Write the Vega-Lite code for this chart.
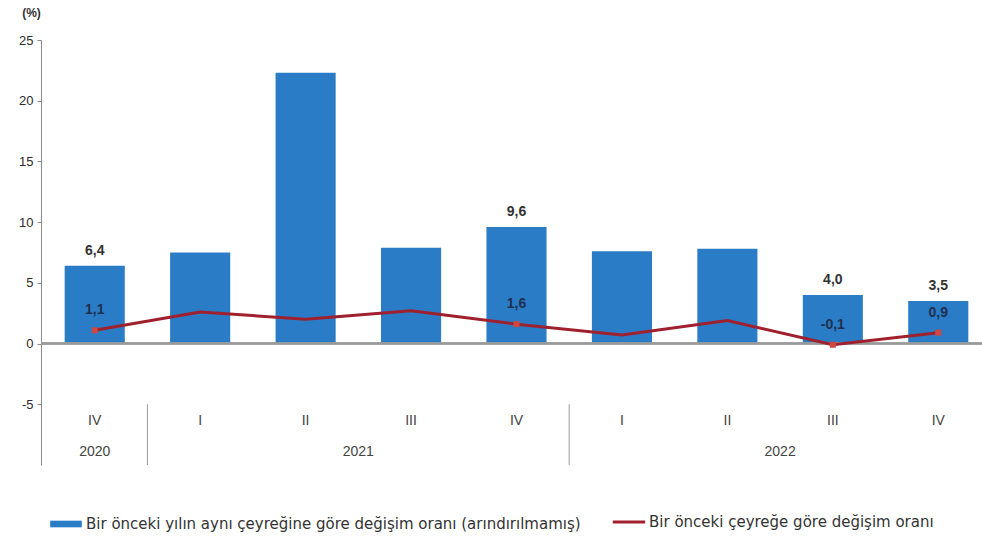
{
  "$schema": "https://vega.github.io/schema/vega-lite/v6.json",
  "width": 941,
  "height": 425,
  "autosize": "none",
  "padding": {"left": 41, "top": 40, "right": 0, "bottom": 77},
  "config": {
    "font": "Liberation Sans",
    "view": {"stroke": null},
    "locale": {"number": {"decimal": ",", "thousands": ".", "grouping": [3], "currency": ["", " TL"], "minus": "-"}}
  },
  "data": {
    "values": [
      {"key": "2020-IV", "quarter": "IV", "year": "2020", "yoy": 6.4, "qoq": 1.1},
      {"key": "2021-I", "quarter": "I", "year": "2021", "yoy": 7.5, "qoq": 2.6},
      {"key": "2021-II", "quarter": "II", "year": "2021", "yoy": 22.3, "qoq": 2.0},
      {"key": "2021-III", "quarter": "III", "year": "2021", "yoy": 7.9, "qoq": 2.7},
      {"key": "2021-IV", "quarter": "IV", "year": "2021", "yoy": 9.6, "qoq": 1.6},
      {"key": "2022-I", "quarter": "I", "year": "2022", "yoy": 7.6, "qoq": 0.7},
      {"key": "2022-II", "quarter": "II", "year": "2022", "yoy": 7.8, "qoq": 1.9},
      {"key": "2022-III", "quarter": "III", "year": "2022", "yoy": 4.0, "qoq": -0.1},
      {"key": "2022-IV", "quarter": "IV", "year": "2022", "yoy": 3.5, "qoq": 0.9}
    ]
  },
  "encoding": {
    "x": {
      "field": "key", "type": "nominal", "sort": null, "axis": null,
      "scale": {"paddingInner": 0.43, "paddingOuter": 0.215, "range": [1, 950]}
    }
  },
  "layer": [
    {
      "mark": {"type": "bar"},
      "encoding": {
        "y": {
          "field": "yoy", "type": "quantitative",
          "scale": {"domain": [-10, 25], "nice": false, "zero": false},
          "axis": {
            "values": [-5, 0, 5, 10, 15, 20, 25],
            "format": "d",
            "grid": false,
            "domainColor": "#8c8c8c",
            "tickColor": "#8c8c8c",
            "tickSize": 4,
            "labelPadding": 4,
            "labelFontSize": 13,
            "labelColor": "#2a2a2a",
            "title": "(%)",
            "titleAngle": 0,
            "titleAlign": "center",
            "titleBaseline": "middle",
            "titleX": -10,
            "titleY": -28,
            "titleFontSize": 12,
            "titleFontWeight": "bold",
            "titleColor": "#333333"
          }
        },
        "fill": {
          "datum": "Bir önceki yılın aynı çeyreğine göre değişim oranı (arındırılmamış)",
          "scale": {"range": ["#2B7CC6"]},
          "legend": {
            "orient": "none", "legendX": 8, "legendY": 467, "title": null,
            "symbolType": "M-1,-0.21H1V0.21H-1Z", "symbolSize": 1000,
            "labelFont": "DejaVu Sans", "labelFontSize": 15, "labelOffset": 3,
            "labelColor": "#333333", "labelLimit": 0, "padding": 0
          }
        }
      }
    },
    {
      "mark": {"type": "rule", "color": "#9a9a9a", "strokeWidth": 1.5},
      "encoding": {"x": null, "y": {"datum": 0}}
    },
    {
      "mark": {"type": "line", "strokeWidth": 3},
      "encoding": {
        "y": {"field": "qoq", "type": "quantitative"},
        "stroke": {
          "datum": "Bir önceki çeyreğe göre değişim oranı",
          "scale": {"range": ["#A0202E"]},
          "legend": {
            "orient": "none", "legendX": 570, "legendY": 464, "title": null,
            "symbolType": "stroke", "symbolSize": 1050, "symbolStrokeWidth": 3,
            "labelFont": "DejaVu Sans", "labelFontSize": 15, "labelOffset": 2,
            "labelColor": "#333333", "labelLimit": 0, "padding": 0
          }
        }
      }
    },
    {
      "transform": [{"filter": {"field": "key", "oneOf": ["2020-IV", "2021-IV", "2022-III", "2022-IV"]}}],
      "mark": {"type": "point", "shape": "square", "filled": true, "size": 36, "color": "#D0473F", "opacity": 1},
      "encoding": {"y": {"field": "qoq", "type": "quantitative"}}
    },
    {
      "transform": [{"filter": {"field": "key", "oneOf": ["2020-IV", "2021-IV", "2022-III", "2022-IV"]}}],
      "mark": {"type": "text", "baseline": "middle", "dy": -15, "fontWeight": "bold", "fontSize": 14, "color": "#333333"},
      "encoding": {"y": {"field": "yoy", "type": "quantitative"}, "text": {"field": "yoy", "type": "quantitative", "format": ".1f"}}
    },
    {
      "transform": [{"filter": {"field": "key", "oneOf": ["2020-IV", "2021-IV", "2022-III", "2022-IV"]}}],
      "mark": {"type": "text", "baseline": "middle", "dy": -20, "fontWeight": "bold", "fontSize": 14, "color": "#1F3050"},
      "encoding": {"y": {"field": "qoq", "type": "quantitative"}, "text": {"field": "qoq", "type": "quantitative", "format": ".1f"}}
    },
    {
      "mark": {"type": "text", "baseline": "middle", "fontSize": 14, "color": "#444444"},
      "encoding": {"y": {"datum": -6.4}, "text": {"field": "quarter"}}
    },
    {
      "transform": [{"filter": {"field": "key", "oneOf": ["2020-IV"]}}],
      "mark": {"type": "text", "baseline": "middle", "fontSize": 14, "color": "#444444"},
      "encoding": {"y": {"datum": -8.9}, "text": {"field": "year"}}
    },
    {
      "transform": [{"filter": {"field": "key", "oneOf": ["2021-II", "2022-II"]}}],
      "mark": {"type": "text", "baseline": "middle", "fontSize": 14, "color": "#444444"},
      "encoding": {"x": {"field": "key", "type": "nominal", "sort": null, "bandPosition": 1.377}, "y": {"datum": -8.9}, "text": {"field": "year"}}
    },
    {
      "transform": [{"filter": {"field": "key", "oneOf": ["2020-IV", "2021-IV"]}}],
      "mark": {"type": "rule", "color": "#9a9a9a", "strokeWidth": 1},
      "encoding": {"x": {"field": "key", "type": "nominal", "sort": null, "bandPosition": 1.377}, "y": {"datum": -5}, "y2": {"datum": -10}}
    }
  ]
}
